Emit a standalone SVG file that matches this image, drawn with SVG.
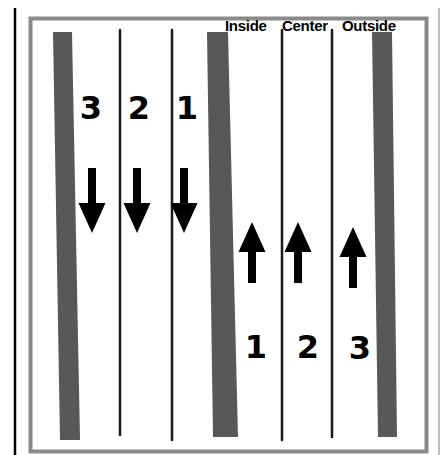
<svg xmlns="http://www.w3.org/2000/svg" width="440" height="455" viewBox="0 0 440 455">
  <defs>
    <style>
      .frame { fill: none; stroke: #8a8a8a; stroke-width: 4; }
      .bar { fill: #585858; }
      .lane { stroke: #1a1a1a; stroke-width: 2.5; stroke-linecap: round; }
      .arrow { fill: #000; }
      .num { font-family: "DejaVu Sans", "Liberation Sans", sans-serif; font-weight: bold; font-size: 32px; fill: #000; text-anchor: middle; }
      .lbl { font-family: "Liberation Sans", Arial, sans-serif; font-weight: bold; font-size: 15px; fill: #000; letter-spacing: -0.3px; }
    </style>
    <!-- arrow pointing down, origin at the shaft top centre -->
    <path id="down" d="M-4,0 H4 V35 H13.5 L0,65 L-13.5,35 H-4 Z"/>
    <!-- arrow pointing up, origin at the tip -->
    <path id="up" d="M0,0 L13.5,30 H4 V61 H-4 V30 H-13.5 Z"/>
  </defs>

  <rect width="440" height="455" fill="#ffffff"/>

  <!-- page edges -->
  <line x1="15" y1="8" x2="15" y2="455" stroke="#000" stroke-width="2.5"/>
  <line x1="439" y1="8" x2="439" y2="455" stroke="#777" stroke-width="1"/>

  <!-- outer frame -->
  <rect class="frame" x="30.5" y="18.5" width="396" height="433"/>

  <!-- thick barrier bars -->
  <g id="bars">
    <polygon class="bar" points="53,32 72,32 80,440 60,440"/>
    <polygon class="bar" points="207,32 228,32 238,437 213,437"/>
    <polygon class="bar" points="372,32 392,32 397,437 378,437"/>
  </g>

  <!-- lane dividers -->
  <g id="lanes">
    <line class="lane" x1="120" y1="30" x2="120" y2="435"/>
    <line class="lane" x1="172" y1="30" x2="172" y2="440"/>
    <line class="lane" x1="282" y1="30" x2="282" y2="440"/>
    <line class="lane" x1="332" y1="30" x2="332" y2="437"/>
  </g>

  <!-- lane labels -->
  <g id="labels">
    <text class="lbl" x="225" y="31">Inside</text>
    <text class="lbl" x="282" y="31">Center</text>
    <text class="lbl" x="342" y="31">Outside</text>
  </g>

  <!-- left lanes: numbers and downward arrows -->
  <g id="left-lanes">
    <text class="num" x="91" y="119">3</text>
    <text class="num" x="139" y="119">2</text>
    <text class="num" x="187" y="119">1</text>
    <use href="#down" x="92" y="168" class="arrow"/>
    <use href="#down" x="137" y="168" class="arrow"/>
    <use href="#down" x="184" y="168" class="arrow"/>
  </g>

  <!-- right lanes: upward arrows and numbers -->
  <g id="right-lanes">
    <use href="#up" x="252" y="222" class="arrow"/>
    <use href="#up" x="298" y="222" class="arrow"/>
    <use href="#up" x="353" y="227" class="arrow"/>
    <text class="num" x="256" y="358">1</text>
    <text class="num" x="308" y="358">2</text>
    <text class="num" x="360" y="359">3</text>
  </g>
</svg>
